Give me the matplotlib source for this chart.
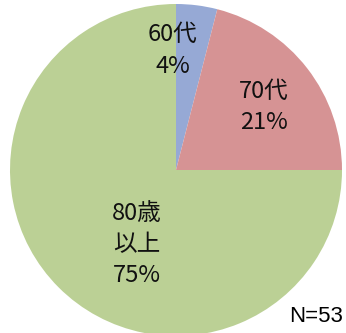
import matplotlib.pyplot as plt

plt.rcParams['font.family'] = ['Noto Sans CJK JP', 'DejaVu Sans']

labels = ["60代", "70代", "80歳\n以上"]
shares = [4, 21, 75]
colors = ["#96a9d5", "#d69394", "#bbd095"]
label_pos = [(-0.02, 0.72), (0.53, 0.38), (-0.235, -0.45)]
total_n = 53

fig = plt.figure(figsize=(3.46, 3.33), dpi=100)
ax = fig.add_axes([10 / 346, -3 / 333, 332 / 346, 332 / 333])

ax.pie(shares, colors=colors, startangle=90, counterclock=False,
       radius=1.0, wedgeprops=dict(linewidth=0))

for lab, val, (x, y) in zip(labels, shares, label_pos):
    ax.text(x, y, f"{lab}\n{val}%", ha="center", va="center",
            fontsize=17, linespacing=1.45, color="#111111")

ax.set_xlim(-1, 1)
ax.set_ylim(-1, 1)
ax.set_aspect("equal")
ax.axis("off")

fig.text(316 / 346, 1 - 316 / 333, f"N={total_n}", ha="center", va="center",
         fontsize=16, family="Liberation Sans")

fig.savefig("out.png", dpi=100)
